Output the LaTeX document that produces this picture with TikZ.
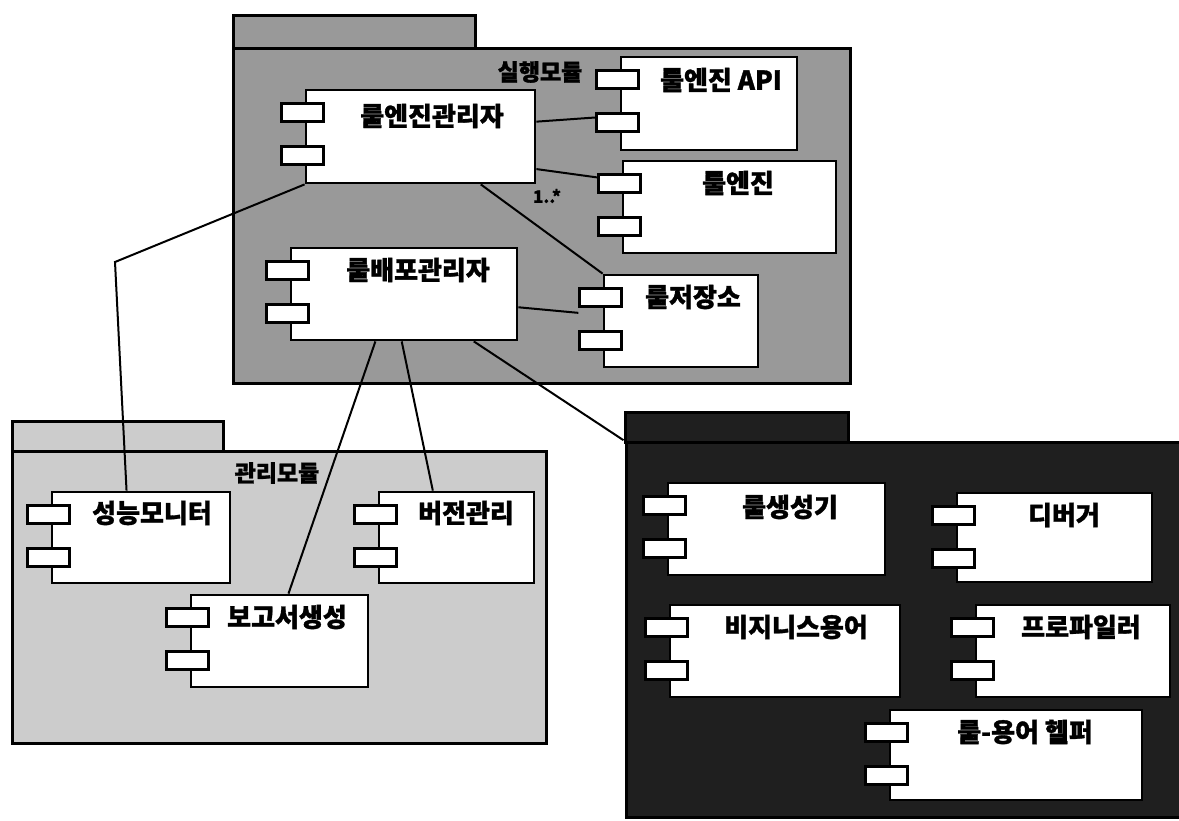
\documentclass[tikz,border=0pt]{standalone}
\usepackage{fontspec}
\newfontfamily\kr{Noto Sans CJK KR}[BoldFeatures={FakeBold=1.2}]
\usetikzlibrary{fit,calc}
\definecolor{execgray}{gray}{0.60}
\definecolor{mgmtgray}{gray}{0.80}
\definecolor{devgray}{gray}{0.12}
\tikzset{
  pkg/.style={draw=black, line width=3pt, inner sep=0pt},
  comp/.style={draw=black, fill=white, line width=2.8pt, inner sep=0pt},
  port/.style={draw=black, fill=white, line width=2.5pt, inner sep=0pt,
    minimum width=42pt, minimum height=18pt},
  lbl/.style={font=\kr\bfseries\fontsize{26}{26}\selectfont, inner sep=0pt, text=black},
  pkglbl/.style={font=\kr\bfseries\fontsize{23}{23}\selectfont, inner sep=0pt, text=black},
  mult/.style={font=\kr\bfseries\fontsize{17}{17}\selectfont, inner sep=0pt},
  wire/.style={draw=black, line width=2pt}
}
% name, x1, y1, x2, y2, label x, label y, text
\newcommand\umlcomp[8]{%
  \node[comp, fit={(#2,#3) (#4,#5)}] (#1) {};
  \node[port] (#1-p1) at ($(#1.north west)+(-2,24)$) {};
  \node[port] (#1-p2) at ($(#1.north west)+(-2,67)$) {};
  \node[lbl] (#1-l) at (#6,#7) {#8};
}
\begin{document}
\begin{tikzpicture}[x=1pt,y=-1pt]
\useasboundingbox (0,0) rectangle (1179,820);
\fill[white] (0,0) rectangle (1179,820);

% ---- execution module
\node[pkg, fill=execgray, fit={(233,15) (475,48)}] (exectab) {};
\node[pkg, fill=execgray, fit={(233,48) (850,383)}] (exec) {};
\node[pkglbl] (exec-l) at (540,72) {실행모듈};

% ---- management module
\node[pkg, fill=mgmtgray, fit={(12,421) (223,451)}] (mgmttab) {};
\node[pkg, fill=mgmtgray, fit={(12,451) (546,743)}] (mgmt) {};
\node[pkglbl] (mgmt-l) at (277,473) {관리모듈};

% ---- development (dark) module
\node[pkg, fill=devgray, fit={(625,412) (848,442)}] (devtab) {};
\node[pkg, fill=devgray, fit={(626,442) (1190,817)}] (dev) {};

% ---- components
\umlcomp{mgr}{306}{90}{535}{183}{432}{116}{룰엔진관리자}
\umlcomp{api}{621}{57}{797}{150}{721}{80}{룰엔진 API}
\umlcomp{eng}{623}{161}{836}{253}{738}{183}{룰엔진}
\umlcomp{dep}{291}{248}{517}{340}{418}{270}{룰배포관리자}
\umlcomp{repo}{604}{275}{758}{367}{693}{297}{룰저장소}

\umlcomp{perf}{52}{492}{230}{583}{152}{513}{성능모니터}
\umlcomp{ver}{379}{492}{534}{583}{466}{513}{버전관리}
\umlcomp{rep}{191}{595}{368}{687}{287}{617}{보고서생성}

\umlcomp{gen}{668}{483}{885}{575}{790}{507}{룰생성기}
\umlcomp{dbg}{957}{493}{1152}{582}{1064}{515}{디버거}
\umlcomp{biz}{670}{605}{900}{697}{796}{627}{비지니스용어}
\umlcomp{prof}{976}{605}{1170}{697}{1081}{627}{프로파일러}
\umlcomp{help}{890}{710}{1142}{800}{1025}{732}{룰-용어 헬퍼}

% ---- connectors
\coordinate (bend1) at (115,262);
\draw[wire] ($(mgr.north east)!0.345!(mgr.south east)$) -- ($(api-p2.north west)!0.25!(api-p2.south west)$);
\draw[wire] ($(mgr.north east)!0.84!(mgr.south east)$) -- ($(eng-p1.north west)!0.2!(eng-p1.south west)$);
\draw[wire] ($(mgr.south west)!0.76!(mgr.south east)$) -- (repo.north west);
\draw[wire] ($(dep.north east)!0.64!(dep.south east)$) -- ($(repo-p1.south west)+(0,5)$);
\draw[wire] (mgr.south west) -- (bend1) -- ($(perf.north west)!0.42!(perf.north east)$);
\draw[wire] ($(dep.south west)!0.375!(dep.south east)$) -- ($(rep.north west)!0.55!(rep.north east)$);
\draw[wire] ($(dep.south west)!0.49!(dep.south east)$) -- ($(ver.north west)!0.35!(ver.north east)$);
\draw[wire] ($(dep.south west)!0.805!(dep.south east)$) -- ($(devtab.north west)!0.9!(devtab.south west)$);
\node[mult] (mult) at (547,196) {1..*};
\end{tikzpicture}
\end{document}
